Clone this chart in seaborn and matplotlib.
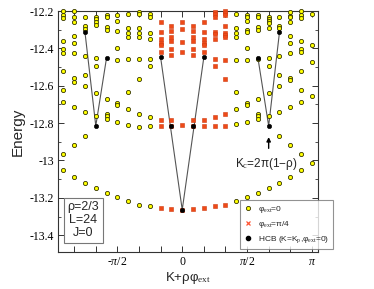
import numpy as np
import pandas as pd
import matplotlib
matplotlib.use("Agg")
import matplotlib.pyplot as plt
import seaborn as sns
from matplotlib.lines import Line2D

# column index n : K + rho*phi_ext = n*pi/12  (L = 24)
yellow_levels = {
    -11: [-12.200, -12.220, -12.239, -12.360, -12.405, -12.423, -12.519, -12.622, -12.685, -12.966, -13.050],
    -10: [-12.200, -12.230, -12.259, -12.334, -12.369, -12.423, -12.560, -12.581, -12.713, -12.918, -13.086],
    -9:  [-12.230, -12.278, -12.298, -12.439, -12.542, -12.601, -12.742, -12.868, -13.118],
    -8:  [-12.232, -12.245, -12.259, -12.275, -12.450, -12.496, -12.639, -12.760, -13.148],
    -7:  [-12.221, -12.232, -12.284, -12.302, -12.672, -12.749, -12.763, -12.778, -13.175],
    -6:  [-12.223, -12.253, -12.307, -12.396, -12.462, -12.692, -12.704, -12.795, -13.196],
    -5:  [-12.216, -12.293, -12.319, -12.341, -12.458, -12.631, -12.726, -12.811, -13.218],
    -4:  [-12.204, -12.216, -12.293, -12.319, -12.337, -12.458, -12.562, -12.751, -12.819, -13.236],
    -3:  [-12.216, -12.230, -12.316, -12.352, -12.457, -12.494, -12.770, -12.815, -13.246],
    5:   [-12.216, -12.293, -12.319, -12.341, -12.462, -12.631, -12.726, -12.804, -13.218],
    6:   [-12.221, -12.232, -12.253, -12.300, -12.312, -12.396, -12.462, -12.692, -12.704, -12.795, -13.196],
    7:   [-12.221, -12.232, -12.284, -12.301, -12.459, -12.672, -12.749, -12.763, -12.778, -13.175],
    8:   [-12.230, -12.243, -12.254, -12.266, -12.293, -12.450, -12.496, -12.639, -12.760, -13.148],
    9:   [-12.230, -12.278, -12.293, -12.439, -12.542, -12.601, -12.742, -12.868, -13.118],
    10:  [-12.204, -12.225, -12.234, -12.261, -12.332, -12.369, -12.423, -12.560, -12.569, -12.713, -12.918, -13.086],
    11:  [-12.200, -12.221, -12.237, -12.359, -12.401, -12.419, -12.519, -12.622, -12.687, -12.965, -13.050],
    12:  [-12.216, -12.382, -12.471, -12.655, -13.011],
}

red_levels = {
    -2: [-12.259, -12.312, -12.352, -12.369, -12.381, -12.417, -12.785, -12.815, -13.257],
    -1: [-12.278, -12.305, -12.341, -12.359, -12.403, -12.435, -12.783, -12.815, -13.261],
    0:  [-12.259, -12.294, -12.366, -12.421, -12.810, -13.264],
    1:  [-12.280, -12.305, -12.341, -12.359, -12.403, -12.435, -12.785, -12.815, -13.261],
    2:  [-12.259, -12.312, -12.352, -12.369, -12.381, -12.417, -12.785, -12.815, -13.257],
    3:  [-12.204, -12.218, -12.230, -12.314, -12.323, -12.352, -12.457, -12.494, -12.769, -12.815, -13.246],
    4:  [-12.200, -12.209, -12.221, -12.282, -12.316, -12.327, -12.337, -12.462, -12.564, -12.751, -12.813, -13.236],
}

hcb_n = [-9, -8, -7, -2, -1, 0, 1, 2, 7, 8, 9]
hcb_E = [-12.314, -12.815, -12.449, -12.448, -12.815, -13.264, -12.815, -12.448, -12.449, -12.815, -12.314]
hcb_branches = [[-9, -8, -7], [-2, 0, 2], [7, 8, 9]]

xtick_labels = {-3: r"-$\pi$/2", 0: "0", 3: r"$\pi$/2", 6: r"$\pi$"}


def to_frame(levels):
    rows = [(n * np.pi / 12, e) for n, es in levels.items() for e in es]
    return pd.DataFrame(rows, columns=["x", "E"])


dfy = to_frame(yellow_levels)
dfr = to_frame(red_levels)
dfh = pd.DataFrame({"x": np.array(hcb_n) * np.pi / 12, "E": hcb_E})
hcb_map = dict(zip(hcb_n, hcb_E))

sns.set_theme(style="ticks")
plt.rcParams["font.family"] = ["Liberation Sans", "DejaVu Sans"]
plt.rcParams["mathtext.fontset"] = "custom"
plt.rcParams["mathtext.rm"] = "Liberation Serif"
plt.rcParams["mathtext.it"] = "Liberation Serif:italic"

fig = plt.figure(figsize=(3.74, 2.89), dpi=100)
ax = fig.add_axes([58 / 374, 1 - 252 / 289, 260 / 374, 241 / 289])

for br in hcb_branches:
    seg = pd.DataFrame({"x": np.array(br) * np.pi / 12, "E": [hcb_map[n] for n in br]})
    sns.lineplot(data=seg, x="x", y="E", sort=False, estimator=None, ax=ax,
                 color="#555555", lw=0.8, zorder=2)

sns.scatterplot(data=dfy, x="x", y="E", ax=ax, marker="o", s=9, color="#ffff00",
                edgecolor="#333300", linewidth=0.6, zorder=3, clip_on=False)
sns.scatterplot(data=dfr, x="x", y="E", ax=ax, marker="s", s=9, color="#ee4a18",
                edgecolor="#d03a10", linewidth=0.4, zorder=3, clip_on=False)
sns.scatterplot(data=dfh, x="x", y="E", ax=ax, marker="o", s=10, color="black",
                edgecolor="black", linewidth=0.4, zorder=4, clip_on=False)

ax.set_xlim(-3.01, 3.29)
ax.set_ylim(-13.49, -12.2)

xt = [k * np.pi / 6 for k in range(-5, 7)]
ax.set_xticks(xt)
ax.set_xticklabels([xtick_labels.get(k, "") for k in range(-5, 7)])
yt = [-12.2, -12.4, -12.6, -12.8, -13.0, -13.2, -13.4]
ax.set_yticks(yt)
ax.set_yticklabels(["-12.2", "-12.4", "-12.6", "-12.8", "-13", "-13.2", "-13.4"])
ax.set_yticks(np.arange(-13.4, -12.19, 0.1), minor=True)

ax.tick_params(axis="both", which="both", direction="in", top=True, right=True,
               colors="#333333", labelcolor="black")
ax.tick_params(which="major", length=4, width=0.7)
ax.tick_params(which="minor", length=2.5, width=0.6)
for lab in ax.get_xticklabels() + ax.get_yticklabels():
    lab.set_family(["Liberation Serif", "DejaVu Serif"])
    lab.set_fontsize(8.5)
ax.tick_params(axis="y", pad=3)
ax.tick_params(axis="x", pad=3)
for sp in ax.spines.values():
    sp.set_color("#333333")
    sp.set_linewidth(0.8)

ax.set_ylabel("Energy", fontsize=11, labelpad=3)
ax.set_xlabel(r"K+ρφ$_{\rm ext}$", fontsize=9.5, labelpad=1)

ax.text(-2.40, -13.32, "ρ=2/3\nL=24\nJ=0", fontsize=9, ha="center", va="center",
        linespacing=1.1,
        bbox=dict(boxstyle="square,pad=0.3", fc="white", ec="#777777", lw=0.8))

ax.annotate("", xy=(8 * np.pi / 12, -12.86), xytext=(8 * np.pi / 12, -12.95),
            arrowprops=dict(arrowstyle="-|>", color="black", lw=1.0, mutation_scale=6))
ax.text(8 * np.pi / 12 - 0.05, -13.02, r"K$_{\rm c}$=2π(1−ρ)", fontsize=8.5,
        ha="center", va="center")

handles = [
    Line2D([], [], ls="none", marker="o", ms=3, mfc="#ffff00", mec="#333300", mew=0.6),
    Line2D([], [], ls="none", marker="x", ms=3, mec="#ff5533", mew=0.9),
    Line2D([], [], ls="none", marker="o", ms=3, mfc="black", mec="black"),
]
labels = [r"φ$_{\rm ext}$=0", r"φ$_{\rm ext}$=π/4", r"HCB (K=K$_{\rm p}$,φ$_{\rm ext}$=0)"]
leg = fig.legend(handles, labels, loc="lower left",
                 bbox_to_anchor=(240 / 374, 1 - 249 / 289), fontsize=6,
                 frameon=True, fancybox=False, edgecolor="#777777",
                 handlelength=1.0, handletextpad=0.6, borderpad=0.5,
                 labelspacing=0.5, borderaxespad=0)
leg.get_frame().set_linewidth(0.8)

fig.savefig("out.png", dpi=100)
